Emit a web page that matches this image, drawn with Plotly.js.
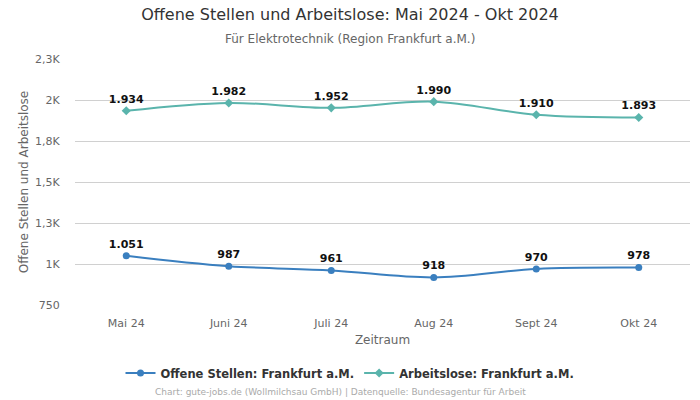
<!DOCTYPE html>
<html><head><meta charset="utf-8">
<script src="https://cdn.plot.ly/plotly-3.0.1.min.js"></script>
<style>html,body{margin:0;padding:0;background:#fff}#chart{width:700px;height:400px}</style>
</head><body><div id="chart"></div>
<script>
var months = ["Mai 24","Juni 24","Juli 24","Aug 24","Sept 24","Okt 24"];
var offeneStellen = [1051, 987, 961, 918, 970, 978];
var arbeitslose = [1934, 1982, 1952, 1990, 1910, 1893];
var tickVals = [750, 1000, 1250, 1500, 1750, 2000, 2250];
var tickText = ["750","1K","1,3K","1,5K","1,8K","2K","2,3K"];
function fmt(v){ return v>=1000 ? Math.floor(v/1000)+"."+String(v%1000).padStart(3,"0") : String(v); }
var font = "DejaVu Sans, sans-serif";
var traces = [
 {x: months, y: offeneStellen, name: "<b>Offene Stellen: Frankfurt a.M.</b>", type:"scatter", mode:"lines+markers+text",
  line:{color:"#3a7fbf", width:2, shape:"spline"}, marker:{symbol:"circle", size:7, color:"#3a7fbf"},
  text: offeneStellen.map(function(v){return "<b>"+fmt(v)+"</b>";}), textposition:"top center", textfont:{family:font, size:11, color:"#111"}, cliponaxis:false},
 {x: months, y: arbeitslose, name: "<b>Arbeitslose: Frankfurt a.M.</b>", type:"scatter", mode:"lines+markers+text",
  line:{color:"#5ab4ac", width:2, shape:"spline"}, marker:{symbol:"diamond", size:7, color:"#5ab4ac"},
  text: arbeitslose.map(function(v){return "<b>"+fmt(v)+"</b>";}), textposition:"top center", textfont:{family:font, size:11, color:"#111"}, cliponaxis:false}
];
var cx = (350-75)/615;
var fx = (340-75)/615;
var layout = {
 width:700, height:400, margin:{l:75, r:10, t:59, b:95},
 paper_bgcolor:"#fff", plot_bgcolor:"#fff",
 font:{family:font, size:11, color:"#666"},
 title:{text:"Offene Stellen und Arbeitslose: Mai 2024 - Okt 2024", x:0.5, xanchor:"center", y:0.978, yanchor:"top", font:{family:font, size:16, color:"#333"}},
 annotations:[
  {text:"Für Elektrotechnik (Region Frankfurt a.M.)", xref:"paper", yref:"paper", x:cx, y:1, yshift:20, xanchor:"center", yanchor:"middle", showarrow:false, font:{family:font, size:12, color:"#666"}},
  {text:"Chart: gute-jobs.de (Wollmilchsau GmbH) | Datenquelle: Bundesagentur für Arbeit", xref:"paper", yref:"paper", x:fx, y:0, yshift:-87, xanchor:"center", yanchor:"middle", showarrow:false, font:{family:font, size:9, color:"#aaa"}}
 ],
 xaxis:{type:"category", range:[-0.5,5.5], showgrid:false, zeroline:false, showline:false, ticks:"outside", ticklen:8, tickcolor:"#fff", tickfont:{size:11, color:"#666"},
  title:{text:"Zeitraum", font:{size:12, color:"#666"}, standoff:6}},
 yaxis:{range:[750,2250], tickvals:tickVals, ticktext:tickText, showgrid:true, gridcolor:"#d0d0d0", zeroline:false, showline:false,
  tickfont:{size:11, color:"#666"}, ticklen:12, tickcolor:"#fff", ticks:"outside", title:{text:"Offene Stellen und Arbeitslose", font:{size:12, color:"#666"}, standoff:3}},
 showlegend:true,
 legend:{orientation:"h", x:cx, xanchor:"center", y:-68/246, yanchor:"middle", itemwidth:30, font:{family:font, size:11.5, color:"#333"}}
};
Plotly.newPlot("chart", traces, layout, {displayModeBar:false, staticPlot:true});
</script></body></html>
